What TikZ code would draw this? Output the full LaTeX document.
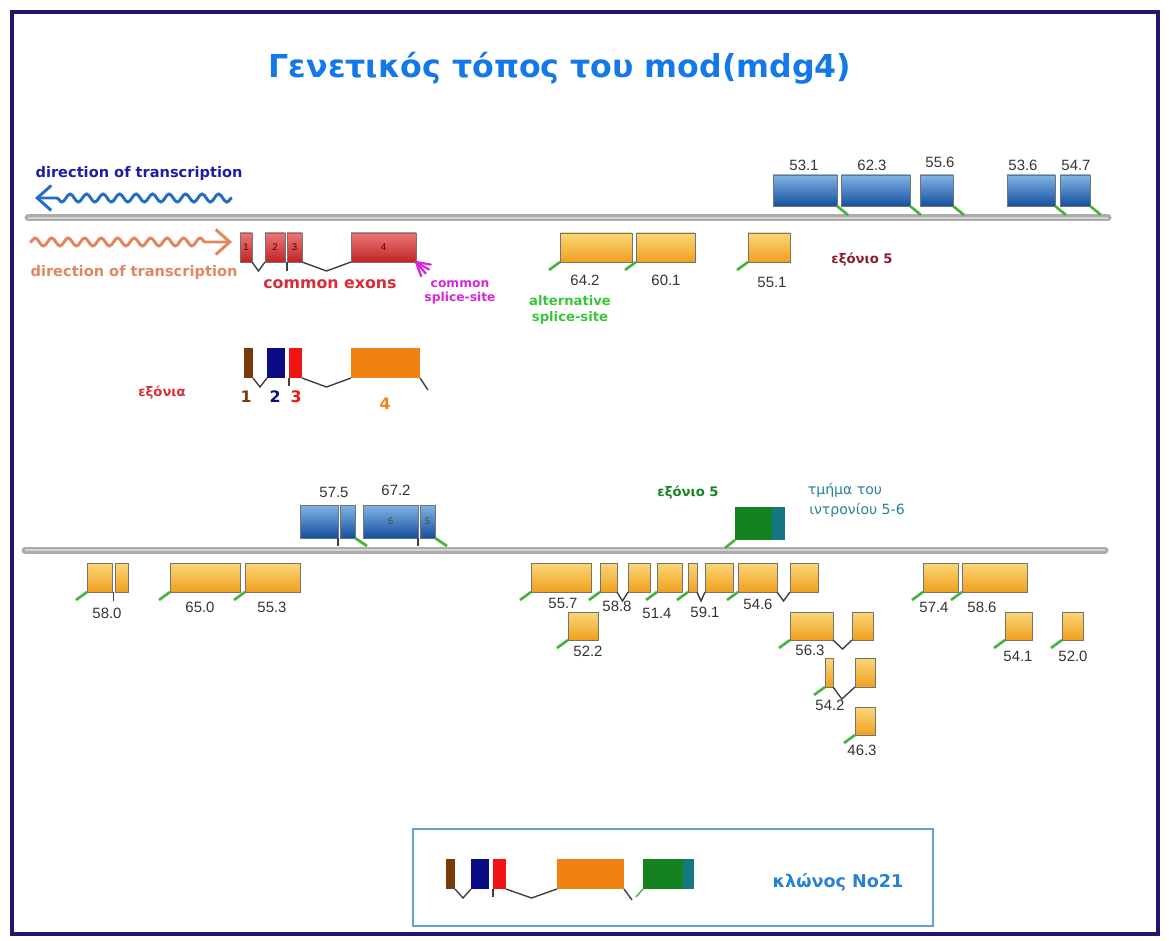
\documentclass[tikz,border=0pt]{standalone}
\usepackage{fontspec}
\setmainfont{DejaVu Sans}
\newfontfamily\numfont{Liberation Sans}
\usetikzlibrary{calc,decorations.pathmorphing,arrows.meta}

\definecolor{framenavy}{RGB}{30,25,110}
\definecolor{titleblue}{RGB}{20,120,230}
\definecolor{dirblue}{RGB}{30,30,160}
\definecolor{arrblue}{RGB}{40,110,190}
\definecolor{salmon}{RGB}{225,135,95}
\definecolor{comred}{RGB}{215,45,55}
\definecolor{spmag}{RGB}{215,40,215}
\definecolor{altgreen}{RGB}{60,195,60}
\definecolor{spgreen}{RGB}{70,180,60}
\definecolor{exdark}{RGB}{140,25,45}
\definecolor{exgreen}{RGB}{20,130,30}
\definecolor{intteal}{RGB}{40,130,150}
\definecolor{bluetop}{RGB}{130,180,230}
\definecolor{bluebot}{RGB}{20,80,160}
\definecolor{orgtop}{RGB}{250,215,120}
\definecolor{orgbot}{RGB}{240,160,30}
\definecolor{redtop}{RGB}{235,120,120}
\definecolor{redbot}{RGB}{195,35,35}
\definecolor{exbrown}{RGB}{120,60,10}
\definecolor{exnavy}{RGB}{10,10,130}
\definecolor{exred}{RGB}{240,20,20}
\definecolor{exorange}{RGB}{240,130,20}
\definecolor{exteal}{RGB}{20,120,130}
\definecolor{clonetxt}{RGB}{40,130,210}
\definecolor{cloneline}{RGB}{100,160,210}

\tikzset{
  exon/.style={draw=black!55, line width=0.5pt, inner sep=0pt, outer sep=0pt,
    anchor=north west, font=\numfont\fontsize{5.5}{6}\selectfont},
  bexon/.style={exon, top color=bluetop, bottom color=bluebot, text=black!70},
  oexon/.style={exon, top color=orgtop, bottom color=orgbot},
  rexon/.style={exon, top color=redtop, bottom color=redbot, text=red!30!black},
  sexon/.style={inner sep=0pt, outer sep=0pt, anchor=north west},
  intron/.style={draw=black!75, line width=0.8pt},
  splice/.style={draw=spgreen, line width=1.5pt},
  num/.style={font=\numfont\fontsize{8.5}{10}\selectfont, text=black!80},
  lbl/.style={font=\bfseries\fontsize{7.5}{9}\selectfont},
  dirlbl/.style={font=\bfseries\fontsize{8.3}{10}\selectfont},
  chrom/.style={line width=1.4mm, draw=gray!65, line cap=round},
  wave/.style={line width=1.7pt, decorate,
    decoration={snake, amplitude=0.8mm, segment length=3.3mm, post length=4mm}}
}

\begin{document}
\begin{tikzpicture}[x=0.2mm, y=-0.2mm]
    \useasboundingbox (0,0) rectangle (1169,941);
    \draw[framenavy, line width=0.8mm] (12,12) rectangle (1158,934);
    \node[text=titleblue, font=\bfseries\fontsize{18}{20}\selectfont] (title) at (560,68)
        {Γενετικός τόπος του mod(mdg4)};

    % chromosome lines
    \coordinate (ca) at (28,218);
    \coordinate (cb) at (1108,218);
    \coordinate (cc) at (25,550);
    \coordinate (cd) at (1105,550);
    \draw[chrom] (ca) -- (cb);
    \draw[chrom] (cc) -- (cd);
    \draw[gray!35, line width=0.35mm] (ca) -- (cb);
    \draw[gray!35, line width=0.35mm] (cc) -- (cd);

    % direction of transcription
    \node[dirlbl, text=dirblue] (dirup) at (139,173) {direction of transcription};
    \coordinate (bw0) at (232,198);
    \coordinate (bw1) at (35,198);
    \draw[wave, arrblue, -{Straight Barb[length=2.8mm,width=5mm]}] (bw0) -- (bw1);
    \coordinate (sw0) at (30,242);
    \coordinate (sw1) at (232,242);
    \draw[wave, salmon, -{Straight Barb[length=2.8mm,width=5mm]}] (sw0) -- (sw1);
    \node[dirlbl, text=salmon] (dirdown) at (134,272) {direction of transcription};

    % common exons
    \foreach \nm/\xa/\xb/\txt in {c1/240/252/1, c2/265/285/2, c3/287/302/3, c4/351/416/4}
        \node[rexon, minimum width={(\xb-\xa)*0.2mm}, minimum height={29*0.2mm}] (\nm) at (\xa,233) {\txt};
    \draw[intron] (c1.south east) -- ($(c1.south east)!0.5!(c2.south west)+(0,9)$) -- (c2.south west);
    \draw[intron] (c3.south west) -- ++(0,9);
    \draw[intron] (c3.south east) -- ($(c3.south east)!0.5!(c4.south west)+(0,9)$) -- (c4.south west);
    \foreach \a in {10,30,50,70}
        \draw[spmag, line width=1.3pt, line cap=round] (c4.south east) -- ++(\a:15);
    \node[lbl, text=comred, font=\bfseries\fontsize{9}{10}\selectfont] (comex) at (330,284) {common exons};
    \node[lbl, text=spmag, font=\bfseries\fontsize{7}{8}\selectfont, align=center] (comsp) at (460,292)
        {common\\splice-site};
    \node[lbl, text=altgreen, align=center] (altsp) at (570,310) {alternative\\splice-site};

    % exons above the upper line
    \foreach \nm/\xa/\xb in {t531/773/837, t623/841/910, t556/920/953, t536/1007/1055, t547/1060/1090}
        \node[bexon, minimum width={(\xb-\xa)*0.2mm}, minimum height={31*0.2mm}] (\nm) at (\xa,175) {};
    \foreach \nm in {t531,t623,t556,t536,t547}
        \draw[splice] (\nm.south east) -- ++(11,9);
    \node[num] (l531) at (804,165) {53.1};
    \node[num] (l623) at (872,165) {62.3};
    \node[num] (l556) at (940,162) {55.6};
    \node[num] (l536) at (1023,165) {53.6};
    \node[num] (l547) at (1076,165) {54.7};

    % exons below the upper line
    \foreach \nm/\xa/\xb in {t642/560/632, t601/636/695, t551/748/790}
        \node[oexon, minimum width={(\xb-\xa)*0.2mm}, minimum height={29*0.2mm}] (\nm) at (\xa,233) {};
    \foreach \nm in {t642,t601,t551}
        \draw[splice] (\nm.south west) -- ++(-11,8);
    \node[num] (l642) at (585,280) {64.2};
    \node[num] (l601) at (666,280) {60.1};
    \node[num] (l551) at (772,282) {55.1};
    \node[lbl, text=exdark] (ex5a) at (862,260) {εξόνιο 5};

    % legend of the exons
    \node[sexon, fill=exbrown, minimum width={9*0.2mm}, minimum height={30*0.2mm}] (e1) at (244,348) {};
    \node[sexon, fill=exnavy, minimum width={18*0.2mm}, minimum height={30*0.2mm}] (e2) at (267,348) {};
    \node[sexon, fill=exred, minimum width={13*0.2mm}, minimum height={30*0.2mm}] (e3) at (289,348) {};
    \node[sexon, fill=exorange, minimum width={69*0.2mm}, minimum height={30*0.2mm}] (e4) at (351,348) {};
    \draw[intron] (e1.south east) -- ($(e1.south east)!0.5!(e2.south west)+(0,9)$) -- (e2.south west);
    \draw[intron] (e3.south west) -- ++(0,8);
    \draw[intron] (e3.south east) -- ($(e3.south east)!0.5!(e4.south west)+(0,9)$) -- (e4.south west);
    \draw[intron] (e4.south east) -- ++(8,12);
    \node[lbl, text=comred] (exn) at (162,393) {εξόνια};
    \node[lbl, text=exbrown, font=\bfseries\fontsize{9}{10}\selectfont] (n1) at (246,397) {1};
    \node[lbl, text=exnavy, font=\bfseries\fontsize{9}{10}\selectfont] (n2) at (275,397) {2};
    \node[lbl, text=exred, font=\bfseries\fontsize{9}{10}\selectfont] (n3) at (296,397) {3};
    \node[lbl, text=exorange, font=\bfseries\fontsize{9}{10}\selectfont] (n4) at (385,404) {4};

    % exons above the lower line
    \foreach \nm/\xa/\xb/\txt in {b575a/300/338/{}, b575b/340/355/{}, b672a/363/418/6, b672b/420/435/5}
        \node[bexon, minimum width={(\xb-\xa)*0.2mm}, minimum height={33*0.2mm}] (\nm) at (\xa,505) {\txt};
    \draw[intron] (b575a.south east) -- ++(0,8);
    \draw[intron] (b672a.south east) -- ++(0,8);
    \draw[splice] (b575b.south east) -- ++(12,8);
    \draw[splice] (b672b.south east) -- ++(12,8);
    \node[num] (l575) at (334,492) {57.5};
    \node[num] (l672) at (396,490) {67.2};
    \node[sexon, fill=exgreen, minimum width={37*0.2mm}, minimum height={33*0.2mm}] (g5) at (735,507) {};
    \node[sexon, fill=exteal, minimum width={13*0.2mm}, minimum height={33*0.2mm}] (g56) at (772,507) {};
    \draw[splice] (g5.south west) -- ++(-10,8);
    \node[lbl, text=exgreen] (ex5b) at (688,493) {εξόνιο 5};
    \node[text=intteal, font=\fontsize{8}{9}\selectfont] (intr1) at (845,490) {τμήμα του};
    \node[text=intteal, font=\fontsize{8}{9}\selectfont] (intr2) at (857,510) {ιντρονίου 5-6};

    % exons below the lower line
    \foreach \nm/\xa/\xb/\ya/\yb in {o580a/87/112/563/592, o580b/115/128/563/592,
        o650/170/240/563/592, o553/245/300/563/592, o557/531/591/563/592,
        o588a/600/617/563/592, o588b/628/650/563/592, o514/657/682/563/592,
        o591a/688/697/563/592, o591b/705/733/563/592, o546a/738/777/563/592,
        o546b/790/818/563/592, o522/568/598/612/640, o563a/790/833/612/640,
        o563b/852/873/612/640, o542a/825/833/658/687, o542b/855/875/658/687,
        o463/855/875/707/735, o574/923/958/563/592, o586/962/1027/563/592,
        o541/1005/1032/612/640, o520/1062/1083/612/640}
        \node[oexon, minimum width={(\xb-\xa)*0.2mm}, minimum height={(\yb-\ya)*0.2mm}] (\nm) at (\xa,\ya) {};
    \foreach \nm in {o580a,o650,o553,o557,o588a,o514,o591a,o546a,o522,o563a,o542a,o463,o574,o586,o541,o520}
        \draw[splice] (\nm.south west) -- ++(-11,8);
    \draw[intron] ($(o580a.south east)!0.5!(o580b.south west)$) -- ++(0,9);
    \foreach \a/\b in {o588a/o588b, o591a/o591b, o546a/o546b, o563a/o563b}
        \draw[intron] (\a.south east) -- ($(\a.south east)!0.5!(\b.south west)+(0,9)$) -- (\b.south west);
    \draw[intron] (o542a.south east) -- ($(o542a.south east)!0.4!(o542b.south west)+(0,12)$) -- (o542b.south west);
    \node[num] (l580) at (107,613) {58.0};
    \node[num] (l650) at (200,607) {65.0};
    \node[num] (l553) at (272,607) {55.3};
    \node[num] (l557) at (563,603) {55.7};
    \node[num] (l588) at (617,606) {58.8};
    \node[num] (l514) at (657,613) {51.4};
    \node[num] (l591) at (705,612) {59.1};
    \node[num] (l546) at (758,604) {54.6};
    \node[num] (l522) at (588,651) {52.2};
    \node[num] (l563) at (810,650) {56.3};
    \node[num] (l542) at (830,705) {54.2};
    \node[num] (l463) at (862,750) {46.3};
    \node[num] (l574) at (934,607) {57.4};
    \node[num] (l586) at (982,607) {58.6};
    \node[num] (l541) at (1018,656) {54.1};
    \node[num] (l520) at (1073,656) {52.0};

    % clone No21
    \node[draw=cloneline, line width=1.2pt, anchor=north west, minimum width={520*0.2mm},
        minimum height={97*0.2mm}] (clone) at (412,828) {};
    \node[sexon, fill=exbrown, minimum width={9*0.2mm}, minimum height={30*0.2mm}] (k1) at (446,859) {};
    \node[sexon, fill=exnavy, minimum width={18*0.2mm}, minimum height={30*0.2mm}] (k2) at (471,859) {};
    \node[sexon, fill=exred, minimum width={13*0.2mm}, minimum height={30*0.2mm}] (k3) at (493,859) {};
    \node[sexon, fill=exorange, minimum width={67*0.2mm}, minimum height={30*0.2mm}] (k4) at (557,859) {};
    \node[sexon, fill=exgreen, minimum width={40*0.2mm}, minimum height={30*0.2mm}] (kg) at (643,859) {};
    \node[sexon, fill=exteal, minimum width={11*0.2mm}, minimum height={30*0.2mm}] (kt) at (683,859) {};
    \draw[intron] (k1.south east) -- ($(k1.south east)!0.5!(k2.south west)+(0,9)$) -- (k2.south west);
    \draw[intron] (k3.south west) -- ++(0,8);
    \draw[intron] (k3.south east) -- ($(k3.south east)!0.5!(k4.south west)+(0,9)$) -- (k4.south west);
    \draw[intron] (k4.south east) -- ++(8,11);
    \draw[spgreen, line width=0.8pt] (kg.south west) -- ++(-7,8);
    \node[text=clonetxt, font=\bfseries\fontsize{10}{12}\selectfont] (clonetxt) at (838,882) {κλώνος No21};
\end{tikzpicture}
\end{document}
